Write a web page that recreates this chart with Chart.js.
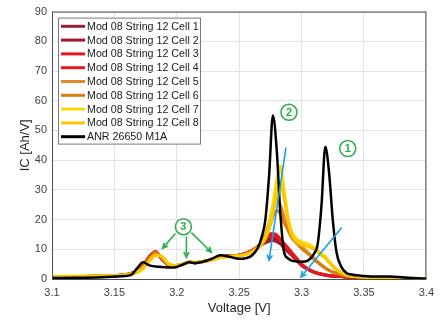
<!DOCTYPE html>
<html>
<head>
<meta charset="utf-8">
<script src="https://cdn.jsdelivr.net/npm/chart.js@4"></script>
<style>
    html, body { margin: 0; padding: 0; background: #fff; }
</style>
</head>
<body>
<canvas id="grafico" width="441" height="324"></canvas>
<script>
// eje de voltaje comun a todas las curvas
const voltaje = [3.10, 3.12, 3.14, 3.155, 3.163, 3.168, 3.173, 3.178, 3.183, 3.188,
    3.193, 3.198, 3.205, 3.21, 3.215, 3.22, 3.228, 3.235, 3.242, 3.25,
    3.255, 3.26, 3.265, 3.268, 3.271, 3.274, 3.277, 3.28, 3.283, 3.286,
    3.289, 3.292, 3.296, 3.30, 3.305, 3.31, 3.313, 3.316, 3.319, 3.322,
    3.325, 3.328, 3.332, 3.336, 3.34, 3.35, 3.36, 3.37, 3.38, 3.39, 3.40];

const cell1 = [0.7, 0.8, 1.0, 1.3, 1.8, 2.6, 4.4, 7.3, 9.0, 6.7,
    4.8, 4.3, 5.0, 5.6, 5.5, 5.8, 6.5, 7.4, 7.8, 8.0,
    8.5, 9.4, 10.6, 11.5, 12.2, 12.7, 13.0, 12.6, 11.8, 10.5,
    9.2, 8.0, 6.2, 4.6, 3.2, 2.2, 1.8, 1.5, 1.3, 1.1,
    1.0, 0.9, 0.8, 0.7, 0.6, 0.5, 0.4, 0.3, 0.2, 0.15, 0.1];
const cell2 = [0.7, 0.8, 1.0, 1.3, 1.8, 2.6, 4.4, 7.4, 9.1, 6.8,
    4.8, 4.3, 5.0, 5.6, 5.5, 5.8, 6.5, 7.4, 7.8, 8.0,
    8.5, 9.5, 10.8, 12.0, 12.9, 13.5, 13.8, 13.4, 12.4, 11.0,
    9.6, 8.3, 6.4, 4.7, 3.3, 2.3, 1.9, 1.6, 1.3, 1.1,
    1.0, 0.9, 0.8, 0.7, 0.6, 0.5, 0.4, 0.3, 0.2, 0.15, 0.1];
const cell3 = [0.7, 0.8, 1.0, 1.3, 1.8, 2.6, 4.5, 7.5, 9.2, 6.8,
    4.8, 4.3, 5.0, 5.6, 5.5, 5.8, 6.5, 7.4, 7.8, 8.0,
    8.6, 9.6, 11.0, 12.5, 14.0, 15.0, 15.3, 14.8, 13.5, 12.0,
    10.5, 9.0, 7.0, 5.0, 3.5, 2.4, 2.0, 1.7, 1.4, 1.2,
    1.0, 0.9, 0.8, 0.7, 0.6, 0.5, 0.4, 0.3, 0.2, 0.15, 0.1];
const cell4 = [0.7, 0.8, 1.0, 1.3, 1.8, 2.6, 4.5, 7.5, 9.2, 6.8,
    4.8, 4.3, 5.0, 5.6, 5.5, 5.8, 6.5, 7.4, 7.8, 8.0,
    8.6, 9.6, 11.0, 12.3, 13.4, 14.2, 14.5, 14.2, 13.0, 11.5,
    10.0, 8.5, 6.5, 4.7, 3.3, 2.3, 1.9, 1.6, 1.3, 1.1,
    1.0, 0.9, 0.8, 0.7, 0.6, 0.5, 0.4, 0.3, 0.2, 0.15, 0.1];
const cell5 = [0.7, 0.8, 1.0, 1.3, 1.8, 2.5, 4.2, 7.0, 8.8, 7.0,
    5.0, 4.4, 5.0, 5.6, 5.5, 5.8, 6.5, 7.3, 7.7, 7.9,
    8.4, 9.4, 11.0, 12.5, 15.0, 19.0, 24.0, 27.0, 25.0, 21.0,
    17.5, 15.0, 12.5, 11.0, 9.0, 7.0, 5.8, 4.7, 3.8, 3.0,
    2.4, 2.0, 1.5, 1.1, 0.9, 0.6, 0.5, 0.4, 0.3, 0.2, 0.1];
const cell6 = [0.7, 0.8, 1.0, 1.3, 1.8, 2.5, 4.2, 7.0, 8.8, 7.0,
    5.0, 4.4, 5.0, 5.6, 5.5, 5.8, 6.5, 7.3, 7.7, 7.9,
    8.4, 9.4, 10.8, 12.2, 14.0, 17.0, 21.0, 23.0, 22.0, 19.0,
    16.5, 14.0, 12.0, 10.3, 8.5, 6.6, 5.5, 4.5, 3.6, 2.9,
    2.3, 1.9, 1.4, 1.0, 0.8, 0.6, 0.5, 0.4, 0.3, 0.2, 0.1];
const cell7 = [0.8, 0.9, 1.0, 1.2, 1.6, 2.2, 3.6, 6.0, 8.0, 7.6,
    5.2, 4.5, 5.0, 5.6, 5.6, 5.8, 6.4, 7.2, 7.6, 7.8,
    8.2, 9.0, 10.5, 12.0, 14.0, 18.0, 25.0, 33.0, 38.0, 30.0,
    21.0, 16.0, 13.5, 12.5, 11.8, 10.5, 9.5, 8.5, 7.5, 6.0,
    4.5, 3.3, 2.2, 1.4, 1.0, 0.7, 0.5, 0.4, 0.3, 0.2, 0.1];
const cell8 = [0.8, 0.9, 1.0, 1.2, 1.6, 2.2, 3.6, 6.0, 8.0, 7.6,
    5.2, 4.5, 5.0, 5.6, 5.6, 5.8, 6.4, 7.2, 7.6, 7.8,
    8.2, 9.0, 10.3, 11.6, 13.5, 17.0, 22.0, 28.0, 32.0, 27.0,
    20.0, 15.0, 12.5, 11.5, 11.0, 10.0, 9.0, 8.0, 7.0, 5.6,
    4.2, 3.1, 2.1, 1.3, 0.9, 0.7, 0.5, 0.4, 0.3, 0.2, 0.1];
const anr = [0.3, 0.4, 0.6, 0.9, 1.3, 3.5, 5.6, 4.6, 4.2, 4.0,
    3.9, 3.9, 4.9, 5.6, 5.4, 5.7, 6.8, 8.0, 7.5, 6.8,
    7.0, 7.8, 10.5, 14.0, 20.0, 35.0, 55.0, 44.0, 22.0, 9.0,
    7.0, 6.2, 5.9, 5.8, 6.2, 8.5, 12.0, 25.0, 44.5, 36.0,
    20.0, 9.0, 4.0, 2.0, 1.5, 1.0, 0.8, 0.8, 0.6, 0.3, 0.1];

const nombres = ["Mod 08 String 12 Cell 1", "Mod 08 String 12 Cell 2", "Mod 08 String 12 Cell 3",
    "Mod 08 String 12 Cell 4", "Mod 08 String 12 Cell 5", "Mod 08 String 12 Cell 6",
    "Mod 08 String 12 Cell 7", "Mod 08 String 12 Cell 8", "ANR 26650 M1A"];
const series = [cell1, cell2, cell3, cell4, cell5, cell6, cell7, cell8, anr];

const ticksX = [3.1, 3.15, 3.2, 3.25, 3.3, 3.35, 3.4];

// marcas de texto y flechas (en coordenadas de datos)
const circulos = [
    { txt: "1", v: 3.337, ic: 43.9 },
    { txt: "2", v: 3.2899, ic: 56.1 },
    { txt: "3", v: 3.2053, ic: 17.6 }
];
const flechasVerdes = [
    [3.1989, 15.3, 3.1886, 10.3],
    [3.2077, 14.3, 3.2077, 7.3],
    [3.2117, 15.6, 3.2277, 9.0]
];
const flechasAzules = [
    [3.2875, 44.2, 3.2739, 6.3],
    [3.3322, 17.3, 3.2995, 0.7]
];

const colores = ["#9e1b32", "#a3172c", "#e8141b", "#e21a1f", "#e58a2c", "#d87c16", "#ffd700", "#f7c900", "#000000"];
const fuente = "'Liberation Sans', Arial, Helvetica, sans-serif";
const verde = "#2fae4e";
const azul = "#1a9fe0";

const datasets = series.map((s, i) => ({
    label: nombres[i],
    data: s.map((y, k) => ({ x: voltaje[k], y })),
    borderColor: colores[i],
    borderWidth: i === 8 ? 2.5 : 3,
    pointRadius: 0,
    cubicInterpolationMode: "monotone",
    fill: false,
    order: series.length - 1 - i
}));

function flecha(ctx, x1, y1, x2, y2, color) {
    const ang = Math.atan2(y2 - y1, x2 - x1);
    const l = 6;
    ctx.strokeStyle = color;
    ctx.lineWidth = 1.6;
    ctx.beginPath();
    ctx.moveTo(x1, y1);
    ctx.lineTo(x2, y2);
    ctx.moveTo(x2 - l * Math.cos(ang - 0.45), y2 - l * Math.sin(ang - 0.45));
    ctx.lineTo(x2, y2);
    ctx.lineTo(x2 - l * Math.cos(ang + 0.45), y2 - l * Math.sin(ang + 0.45));
    ctx.stroke();
}

const extras = {
    id: "extras",
    afterDatasetsDraw(chart) {
        const ctx = chart.ctx;
        const xs = chart.scales.x, ys = chart.scales.y;
        const a = chart.chartArea;
        ctx.save();

        // caja del grafico
        ctx.strokeStyle = "#4d4d4d";
        ctx.lineWidth = 1;
        ctx.strokeRect(a.left + 0.5, a.top + 0.5, a.right - a.left - 1, a.bottom - a.top);

        // flechas
        flechasVerdes.forEach(f => flecha(ctx, xs.getPixelForValue(f[0]), ys.getPixelForValue(f[1]),
            xs.getPixelForValue(f[2]), ys.getPixelForValue(f[3]), verde));
        flechasAzules.forEach(f => flecha(ctx, xs.getPixelForValue(f[0]), ys.getPixelForValue(f[1]),
            xs.getPixelForValue(f[2]), ys.getPixelForValue(f[3]), azul));

        // circulos numerados
        circulos.forEach(c => {
            const px = xs.getPixelForValue(c.v), py = ys.getPixelForValue(c.ic);
            ctx.strokeStyle = verde;
            ctx.lineWidth = 1.6;
            ctx.beginPath();
            ctx.arc(px, py, 8, 0, Math.PI * 2);
            ctx.stroke();
            ctx.fillStyle = verde;
            ctx.font = "bold 11px " + fuente;
            ctx.textAlign = "center";
            ctx.textBaseline = "middle";
            ctx.fillText(c.txt, px, py + 0.5);
        });

        // leyenda dentro del area
        const lx = a.left + 6, ly = a.top + 6, lw = 142, lh = 126;
        ctx.fillStyle = "#fff";
        ctx.fillRect(lx, ly, lw, lh);
        ctx.strokeStyle = "#7a7a7a";
        ctx.lineWidth = 1;
        ctx.strokeRect(lx + 0.5, ly + 0.5, lw, lh);
        ctx.font = "10.7px " + fuente;
        ctx.textAlign = "left";
        ctx.textBaseline = "middle";
        nombres.forEach((n, i) => {
            const y = ly + 8.7 + i * 13.8;
            ctx.strokeStyle = colores[i];
            ctx.lineWidth = 3;
            ctx.beginPath();
            ctx.moveTo(lx + 3, y);
            ctx.lineTo(lx + 27, y);
            ctx.stroke();
            ctx.fillStyle = "#1a1a1a";
            ctx.fillText(n, lx + 29, y + 0.5);
        });

        // titulos de ejes
        ctx.fillStyle = "#262626";
        ctx.font = "13px " + fuente;
        ctx.textAlign = "center";
        ctx.textBaseline = "middle";
        ctx.fillText("Voltage [V]", (a.left + a.right) / 2, 308);
        ctx.save();
        ctx.translate(25, (a.top + a.bottom) / 2);
        ctx.rotate(-Math.PI / 2);
        ctx.fillText("IC [Ah/V]", 0, 0);
        ctx.restore();

        ctx.restore();
    }
};

const ctx = document.getElementById("grafico").getContext("2d");
new Chart(ctx, {
    type: "line",
    data: { datasets },
    options: {
        responsive: false,
        animation: false,
        devicePixelRatio: 1,
        layout: { padding: { left: 0, right: 13, top: 8, bottom: 0 } },
        scales: {
            x: {
                type: "linear",
                min: 3.1,
                max: 3.4,
                afterFit: s => { s.height = 45; },
                afterBuildTicks: s => { s.ticks = ticksX.map(v => ({ value: v })); },
                ticks: {
                    color: "#404040",
                    font: { family: fuente, size: 11 },
                    padding: 7,
                    maxRotation: 0,
                    callback: v => parseFloat(v.toFixed(2)).toString()
                },
                grid: { color: "#e3e3e3", drawTicks: false },
                border: { display: false }
            },
            y: {
                min: 0,
                max: 90,
                afterFit: s => { s.width = 52; },
                ticks: {
                    stepSize: 10,
                    color: "#404040",
                    font: { family: fuente, size: 11 },
                    padding: 5
                },
                grid: { color: "#e3e3e3", drawTicks: false },
                border: { display: false }
            }
        },
        plugins: {
            legend: { display: false },
            tooltip: { enabled: false }
        }
    },
    plugins: [extras]
});
</script>
</body>
</html>
